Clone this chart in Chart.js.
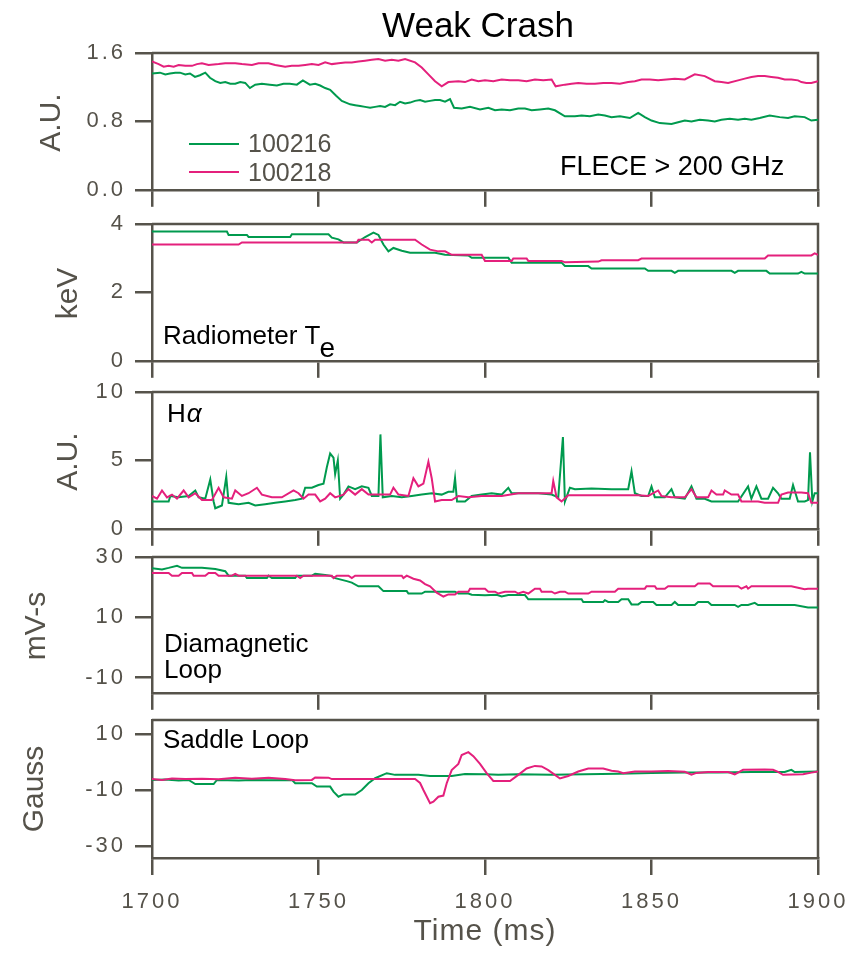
<!DOCTYPE html>
<html>
<head>
<meta charset="utf-8">
<script src="https://cdn.jsdelivr.net/npm/chart.js@4/dist/chart.umd.min.js"></script>
<style>
  body { margin: 0; background: #fff; }
  #wrap { position: relative; width: 860px; height: 954px; overflow: hidden; }
  #wrap canvas { position: absolute; left: 0; }
</style>
</head>
<body>
<div id="wrap"></div>
<script>
// --- data (time in ms) ---
const timeTicks = [1700, 1750, 1800, 1850, 1900];
const yTitles = ["A.U.", "keV", "A.U.", "mV-s", "Gauss"];
const seriesNames = ["100216", "100218"];

// FLECE > 200 GHz
const eceTicks = [0, 0.8, 1.6];
const eceT216 = [1700,1702.4,1704,1705.4,1707,1708.4,1710,1711.4,1712.9,1714.4,1716,1717.4,1719,1720.5,1722,1723.5,1725,1726.5,1728,1729.4,1731,1733,1735.4,1737.5,1739.5,1741.4,1743.5,1745.3,1747.4,1749,1750.5,1752,1753.5,1755.3,1757,1759.5,1761,1762.5,1764,1765.5,1767,1768.5,1770,1771.5,1773,1774.5,1776,1777.5,1779,1780.5,1782,1783.5,1785,1786.5,1788,1789.5,1790.7,1793,1795.5,1798.5,1801,1803,1805,1807.5,1810,1812,1814,1816.5,1819,1821,1824,1827,1829,1831.5,1834,1836,1838,1840.5,1843.5,1846,1848,1850,1852.5,1856,1858,1860,1862,1864.5,1867,1869,1871,1873.5,1876,1878,1880,1882.5,1885.5,1888.5,1891,1893,1896,1898,1900];
const eceV216 = [1.36,1.37,1.35,1.36,1.37,1.37,1.35,1.36,1.32,1.34,1.37,1.31,1.27,1.25,1.26,1.24,1.24,1.26,1.25,1.19,1.23,1.24,1.23,1.22,1.24,1.24,1.23,1.28,1.23,1.24,1.22,1.19,1.17,1.10,1.04,1.00,0.99,0.98,0.97,0.96,0.97,0.98,0.97,1.00,0.99,1.03,1.01,1.02,1.04,1.05,1.03,1.04,1.05,1.05,1.03,1.06,0.96,0.95,0.97,0.94,0.96,0.93,0.94,0.93,0.95,0.95,0.93,0.94,0.95,0.93,0.86,0.86,0.87,0.86,0.88,0.87,0.85,0.86,0.84,0.90,0.85,0.81,0.78,0.77,0.79,0.81,0.80,0.82,0.81,0.80,0.82,0.83,0.82,0.83,0.82,0.84,0.87,0.85,0.84,0.86,0.85,0.81,0.82];
const eceT218 = [1700,1702,1703.5,1705,1706.5,1708,1710,1712,1713.5,1715,1717,1720,1722,1725,1727,1730,1732,1735,1737,1740,1742,1744,1746,1748,1750,1752,1754,1756,1758,1760,1762,1764,1766,1768,1770,1772,1774,1776,1779,1781,1783,1785,1787,1789,1792,1794,1796,1798,1800,1802.5,1805,1807.5,1810,1812.5,1815,1817.5,1820,1821.2,1824,1826,1828,1830.5,1833,1835.5,1838,1840.5,1843,1845,1847,1849.5,1852,1854.5,1857,1860,1863,1866,1869,1871,1873,1876,1878,1880,1882,1884,1886,1888,1890,1892,1894,1895,1896.5,1898,1900];
const eceV218 = [1.50,1.47,1.44,1.45,1.44,1.46,1.45,1.45,1.47,1.48,1.46,1.47,1.48,1.48,1.47,1.46,1.48,1.48,1.46,1.44,1.45,1.45,1.46,1.47,1.46,1.49,1.47,1.48,1.49,1.49,1.50,1.51,1.52,1.53,1.51,1.52,1.51,1.53,1.49,1.43,1.35,1.27,1.21,1.26,1.27,1.26,1.29,1.27,1.28,1.27,1.29,1.28,1.28,1.27,1.29,1.28,1.29,1.21,1.23,1.24,1.25,1.24,1.24,1.25,1.25,1.24,1.26,1.27,1.29,1.29,1.28,1.29,1.30,1.29,1.35,1.33,1.27,1.26,1.25,1.28,1.30,1.32,1.33,1.33,1.32,1.31,1.29,1.29,1.28,1.26,1.25,1.25,1.27];

// Radiometer Te
const radTicks = [0, 2, 4];
const radT216 = [1700,1722.5,1723,1728.5,1729,1741.5,1742,1753,1754,1756,1757.5,1761.5,1764,1766.5,1768,1769.5,1771,1772.5,1775,1777.5,1785,1788,1795,1796,1807,1808,1823,1824,1831,1832,1848,1849,1856,1857,1858,1874,1875,1876,1884.5,1885.5,1894,1895,1896,1900];
const radV216 = [3.78,3.78,3.68,3.68,3.62,3.62,3.70,3.70,3.60,3.55,3.46,3.46,3.62,3.75,3.68,3.40,3.20,3.30,3.22,3.16,3.16,3.10,3.08,3.01,3.01,2.87,2.87,2.77,2.77,2.70,2.70,2.63,2.63,2.57,2.63,2.63,2.57,2.63,2.63,2.55,2.55,2.60,2.55,2.55];
const radT218 = [1700,1726,1727,1761.5,1762,1765,1766,1767,1779,1781,1783.5,1786,1788,1790,1799,1800,1808,1808.5,1812.5,1813,1823,1824,1834,1835,1846,1847,1884,1885,1898,1899,1900];
const radV218 = [3.40,3.40,3.46,3.46,3.54,3.54,3.46,3.54,3.54,3.40,3.25,3.20,3.20,3.10,3.10,2.92,2.92,2.99,2.99,2.92,2.92,2.88,2.90,2.94,2.94,2.99,2.99,3.08,3.08,3.14,3.10];

// H-alpha
const haTicks = [0, 5, 10];
const haT216 = [1700,1702,1705,1705.5,1708,1711,1713,1714,1716,1717.5,1718.5,1719,1721,1722.3,1723,1726,1729,1731,1734,1737,1740,1743,1745,1746,1748,1750,1751.5,1752.5,1753.5,1754.5,1755,1755.8,1756.5,1757.5,1759,1761,1763,1765,1766,1768,1768.6,1769.3,1772,1775,1778,1781,1784,1787,1789,1790.5,1791,1791.6,1794,1796,1799,1802,1805,1807,1808,1812,1816,1820,1822,1823.4,1824,1825.5,1827,1832,1838,1843,1844,1845,1847,1849,1850,1851,1854,1856,1857,1860,1862,1863.5,1866,1868,1872,1876,1879,1880,1881.5,1883,1885,1886.5,1888,1889,1891.5,1892.5,1894,1896,1897,1897.6,1898.3,1899,1900];
const haV216 = [2.0,2.0,2.0,2.4,2.3,2.4,2.8,2.3,2.2,3.6,2.0,1.5,1.7,3.8,1.9,1.8,1.9,1.7,1.8,1.9,2.0,2.1,2.2,3.0,3.0,3.2,3.3,4.5,5.5,5.2,4.0,5.0,2.2,2.5,3.1,2.9,3.1,3.0,2.4,2.4,6.9,2.3,2.4,2.3,2.4,2.5,2.6,2.5,2.7,2.7,3.7,2.0,2.0,2.4,2.5,2.6,2.5,3.0,2.6,2.6,2.6,2.5,2.3,6.7,2.0,3.0,2.9,2.95,2.9,2.9,4.2,2.6,2.4,2.4,3.1,2.3,2.3,2.9,2.3,2.2,3.1,2.2,2.2,2.0,2.0,2.0,3.1,2.2,3.1,2.2,2.2,3.0,2.6,2.2,2.2,3.2,2.0,2.0,2.1,5.6,2.0,2.6,2.6];
const haT218 = [1700,1701.5,1703,1704.5,1706,1707.5,1709.5,1711,1713,1715,1718,1720,1721.5,1724,1725,1727,1729,1731.5,1733,1736,1739,1742.5,1744,1745.5,1747,1749,1750.5,1752,1753.5,1755,1757.5,1759,1761,1763,1765,1768,1771.5,1772.5,1774,1777,1778.5,1780,1781.5,1783,1784,1785,1787,1790,1792,1795,1799,1805,1810,1815,1820,1820.5,1821.5,1823,1825,1830,1840,1846,1849,1852,1853,1856,1860,1862,1863.5,1867,1868,1869.5,1871.5,1872,1874,1876,1877,1882,1884,1888,1889,1891,1895,1897,1898,1900];
const haV218 = [2.4,2.2,2.8,2.3,2.5,2.2,2.8,2.3,2.6,2.1,2.1,3.0,2.3,2.2,2.8,2.4,2.6,3.0,2.5,2.3,2.3,2.8,2.6,2.2,2.5,2.5,2.0,2.2,2.6,2.3,2.5,2.9,2.5,2.9,2.5,2.5,2.5,3.0,2.5,2.4,3.7,3.1,3.3,4.9,3.7,2.0,2.1,2.1,2.4,2.3,2.4,2.4,2.6,2.6,2.6,3.5,2.3,2.0,2.45,2.45,2.45,2.45,2.4,2.8,2.4,2.3,2.3,2.9,2.3,2.3,2.8,2.5,2.5,2.8,2.5,2.5,2.0,2.0,1.9,1.9,2.5,2.65,2.65,2.6,1.9,1.9];

// Diamagnetic loop
const diaTicks = [-10, 10, 30];
const diaT216 = [1700,1703,1705,1707.5,1709,1711,1715,1719,1722,1723,1728,1728.5,1734.5,1735,1736,1743,1743.5,1748,1749,1752,1753.5,1755,1758.5,1760,1762,1768,1769.5,1776.5,1777,1781,1782,1791,1792,1795,1796,1800,1803.5,1805,1807,1812,1813,1829,1829.5,1835.5,1836,1837,1840,1841,1843,1844,1846,1847,1850.5,1851.5,1856,1857,1858,1863,1864,1867,1868,1875,1876,1877,1879,1881,1882,1893,1897,1900];
const diaV216 = [26.3,25.9,26.4,27.1,26.4,26.4,26.4,26.0,25.3,23.8,23.8,23.0,23.0,23.8,23.0,23.0,23.8,23.8,24.4,24.0,23.8,23.0,22.0,21.5,20.3,20.3,18.7,18.7,17.9,17.9,18.5,18.5,17.9,17.9,17.5,17.3,17.5,16.9,17.4,17.4,16.0,16.0,15.1,15.1,15.7,15.1,15.1,16.0,16.0,14.3,14.3,15.1,15.1,14.1,14.1,15.1,14.1,14.1,15.1,15.1,14.1,14.1,13.5,14.1,14.1,14.8,14.1,14.1,13.3,13.3];
const diaT218 = [1700,1705,1706,1708,1709,1712,1712.5,1716,1717,1719,1720,1724,1725,1726,1743.5,1744.5,1745.5,1754,1754.5,1755.5,1759,1760,1761,1775,1775.5,1776.5,1778.5,1780.5,1782,1783.5,1785.5,1787.5,1789,1791,1792,1795,1795.5,1800,1801,1803,1804,1806,1809,1810,1811.5,1813,1815,1816.5,1817,1820,1821,1822.5,1824,1825,1831,1832,1839,1840,1848,1848.5,1851,1851.5,1854,1855,1863,1864,1867.5,1868.5,1876,1877,1878.5,1879,1880,1892,1894,1896,1897,1900];
const diaV218 = [24.7,24.7,23.8,23.8,24.7,24.7,23.8,23.8,24.7,24.7,23.8,23.8,24.4,23.8,23.8,23.0,23.8,23.8,23.0,23.8,23.8,23.0,23.8,23.8,23.0,23.8,22.8,22.2,21.0,20.3,18.2,16.9,17.6,17.6,18.5,18.5,19.5,19.5,18.5,18.5,17.9,18.5,18.5,17.9,18.5,17.9,19.5,19.5,18.5,18.5,17.9,18.5,18.5,17.9,17.9,18.5,18.5,19.5,19.5,20.3,20.3,19.5,19.5,20.3,20.3,21.2,21.2,20.3,20.3,19.5,20.3,19.5,20.3,20.3,19.8,19.3,19.5,19.5];

// Saddle loop
const sadTicks = [-30, -10, 10];
const sadT216 = [1700,1704,1708,1711,1713,1718.5,1719.5,1726,1730,1735,1742,1743,1748,1749.5,1753.5,1754.5,1756,1757.5,1761,1763,1765,1767,1770.5,1773,1780,1783.5,1790,1794,1800,1804,1810,1820,1830,1840,1850,1860,1870,1880,1890,1892,1893,1900];
const sadV216 = [-6.4,-6.3,-6.6,-6.4,-7.9,-7.9,-6.4,-6.6,-6.4,-6.5,-6.4,-7.6,-7.6,-8.8,-8.8,-10.6,-12.4,-11.6,-11.6,-10.0,-7.6,-5.8,-4.0,-4.6,-4.6,-5.0,-5.0,-4.3,-4.4,-4.6,-4.4,-4.6,-4.4,-4.2,-3.9,-3.8,-3.8,-3.6,-3.6,-2.8,-3.6,-3.4];
const sadT218 = [1700,1703,1706,1710,1715,1720,1725,1730,1735,1740,1743,1748,1749,1753,1754,1760,1770,1779,1780.5,1781.5,1783.5,1784.5,1786,1787.5,1788.5,1790,1792,1793,1795,1796.5,1798.5,1800.5,1802.5,1807.5,1810,1812.5,1815,1817,1819,1821,1822.5,1825,1828,1831,1835.5,1838,1840,1841.5,1845,1850,1855,1860,1862,1863.5,1867,1873,1875,1877.5,1884,1886.5,1888,1889.5,1895.5,1898,1900];
const sadV218 = [-6.1,-6.4,-5.9,-6.1,-6.0,-6.2,-5.6,-6.0,-5.6,-6.1,-6.5,-6.4,-5.5,-5.6,-6.1,-6.1,-6.1,-6.1,-7.5,-10.0,-14.7,-14.2,-12.4,-12.0,-7.6,-2.9,-0.7,2.5,3.5,2.1,-0.7,-4.0,-6.8,-6.8,-4.6,-2.3,-1.4,-1.6,-2.9,-4.6,-5.9,-5.0,-3.4,-2.3,-2.3,-3.1,-3.4,-4.0,-3.4,-3.4,-3.2,-3.5,-4.5,-3.9,-3.6,-3.6,-4.4,-2.8,-2.7,-2.8,-3.5,-4.6,-4.4,-3.8,-3.4];

// --- look ---
const AXIS = "#56534b";
const GREY = "#55524a";
const GREEN = "#009a4e";
const PINK = "#e4207c";
const FONT = "'Liberation Sans', Arial, Helvetica, sans-serif";

function pts(t, v) { return t.map((x, i) => ({ x, y: v[i] })); }

function txt(ctx, s, x, y, size, color, align) {
  ctx.font = `${size}px ${FONT}`;
  ctx.fillStyle = color || "#000";
  ctx.textAlign = align || "left";
  ctx.textBaseline = "alphabetic";
  ctx.fillText(s, x, y);
}

function vTitle(ctx, s, x, y) {
  ctx.save();
  ctx.translate(x, y);
  ctx.rotate(-Math.PI / 2);
  txt(ctx, s, 0, 0, 30, GREY, "center");
  ctx.restore();
}

// per panel: layout (page px) + its own notes
const panels = [
  { top: 53, bottom: 192, padTop: 53, min: 0, max: 1.6, ticks: eceTicks, fmt: v => v.toFixed(1),
    t216: eceT216, v216: eceV216, t218: eceT218, v218: eceV218, titleX: 60,
    notes(ctx) {
      txt(ctx, "Weak Crash", 478, 37, 35, "#000", "center");
      ctx.lineWidth = 2;
      ctx.strokeStyle = GREEN; ctx.beginPath(); ctx.moveTo(189, 144); ctx.lineTo(239, 144); ctx.stroke();
      ctx.strokeStyle = PINK; ctx.beginPath(); ctx.moveTo(189, 172); ctx.lineTo(239, 172); ctx.stroke();
      txt(ctx, seriesNames[0], 248, 152, 25, GREY);
      txt(ctx, seriesNames[1], 248, 181, 25, GREY);
      txt(ctx, "FLECE > 200 GHz", 560, 175, 27, "#000");
    } },
  { top: 224, bottom: 363, padTop: 25, min: 0, max: 4, ticks: radTicks, fmt: v => String(v),
    t216: radT216, v216: radV216, t218: radT218, v218: radV218, titleX: 77,
    notes(ctx) {
      txt(ctx, "Radiometer T", 163, 344, 26, "#000");
      ctx.font = `26px ${FONT}`;
      const w = ctx.measureText("Radiometer T").width;
      txt(ctx, "e", 163 + w - 1, 357, 28, "#000");
    } },
  { top: 392, bottom: 531, padTop: 25, min: 0, max: 10, ticks: haTicks, fmt: v => String(v),
    t216: haT216, v216: haV216, t218: haT218, v218: haV218, titleX: 77,
    notes(ctx) {
      txt(ctx, "H", 167, 422, 26, "#000");
      ctx.font = `26px ${FONT}`;
      const w = ctx.measureText("H").width;
      ctx.font = `italic 26px ${FONT}`;
      ctx.fillText("α", 167 + w + 1, 422);
    } },
  { top: 557, bottom: 695, padTop: 25, min: -15, max: 30, ticks: diaTicks, fmt: v => String(v),
    t216: diaT216, v216: diaV216, t218: diaT218, v218: diaV218, titleX: 45,
    notes(ctx) {
      txt(ctx, "Diamagnetic", 164, 652, 26, "#000");
      txt(ctx, "Loop", 164, 678, 26, "#000");
    } },
  { top: 720, bottom: 858, padTop: 25, min: -34.3, max: 15, ticks: sadTicks, fmt: v => String(v),
    t216: sadT216, v216: sadV216, t218: sadT218, v218: sadV218, titleX: 43, last: true,
    notes(ctx) {
      txt(ctx, "Saddle Loop", 163, 748, 26, "#000");
      ctx.letterSpacing = "1px";
      txt(ctx, "Time (ms)", 485, 940, 30, GREY, "center");
      ctx.letterSpacing = "0px";
    } }
];

const framePlugin = {
  id: "frame",
  beforeDraw(chart) { chart.ctx.letterSpacing = "3px"; },
  beforeDatasetsDraw(chart) {
    const { ctx, chartArea: a } = chart;
    ctx.save();
    ctx.strokeStyle = AXIS;
    ctx.lineWidth = 2.5;
    ctx.beginPath();
    ctx.moveTo(a.left, a.top);
    ctx.lineTo(a.right, a.top);
    ctx.lineTo(a.right, a.bottom);
    ctx.stroke();
    ctx.restore();
  },
  afterDraw(chart, args, opts) {
    const ctx = chart.ctx;
    const p = opts.panel;
    ctx.save();
    ctx.letterSpacing = "0px";
    ctx.translate(0, -opts.offset);
    vTitle(ctx, yTitles[opts.index], p.titleX, (p.top + p.bottom) / 2);
    p.notes(ctx);
    ctx.restore();
  }
};

const wrap = document.getElementById("wrap");

panels.forEach((p, i) => {
  const extra = p.last ? 954 - p.bottom : 20;
  const canvasTop = p.top - p.padTop;
  const h = p.padTop + (p.bottom - p.top) + extra;
  const cv = document.createElement("canvas");
  cv.width = 860; cv.height = h;
  cv.style.top = canvasTop + "px";
  cv.style.width = "860px"; cv.style.height = h + "px";
  wrap.appendChild(cv);

  new Chart(cv.getContext("2d"), {
    type: "line",
    data: {
      datasets: [
        { label: seriesNames[1], data: pts(p.t218, p.v218), borderColor: PINK, borderWidth: 2, pointRadius: 0, tension: 0 },
        { label: seriesNames[0], data: pts(p.t216, p.v216), borderColor: GREEN, borderWidth: 2, pointRadius: 0, tension: 0 }
      ]
    },
    options: {
      responsive: false,
      animation: false,
      devicePixelRatio: 1,
      layout: { padding: { top: p.padTop, right: 42, left: 0, bottom: 0 } },
      plugins: {
        legend: { display: false },
        tooltip: { enabled: false },
        frame: { panel: p, index: i, offset: canvasTop }
      },
      scales: {
        x: {
          type: "linear", min: 1700, max: 1900,
          afterBuildTicks: s => { s.ticks = timeTicks.map(value => ({ value })); },
          afterFit: s => { s.height = extra; },
          ticks: {
            display: true, autoSkip: false, maxRotation: 0, padding: 14,
            color: GREY, font: { family: FONT, size: 22 },
            callback: v => (p.last ? String(v) : "")
          },
          grid: { drawOnChartArea: false, drawTicks: true, tickLength: 17, color: AXIS, lineWidth: 2.5 },
          border: { display: true, color: AXIS, width: 2.5 }
        },
        y: {
          type: "linear", min: p.min, max: p.max,
          afterBuildTicks: s => { s.ticks = p.ticks.map(value => ({ value })); },
          afterFit: s => { s.width = 152; },
          ticks: { color: GREY, font: { family: FONT, size: 22 }, padding: 9, callback: v => p.fmt(v) },
          grid: { drawOnChartArea: false, drawTicks: true, tickLength: 17, color: AXIS, lineWidth: 2.5 },
          border: { display: true, color: AXIS, width: 2.5 }
        }
      }
    },
    plugins: [framePlugin]
  });
});
</script>
</body>
</html>
